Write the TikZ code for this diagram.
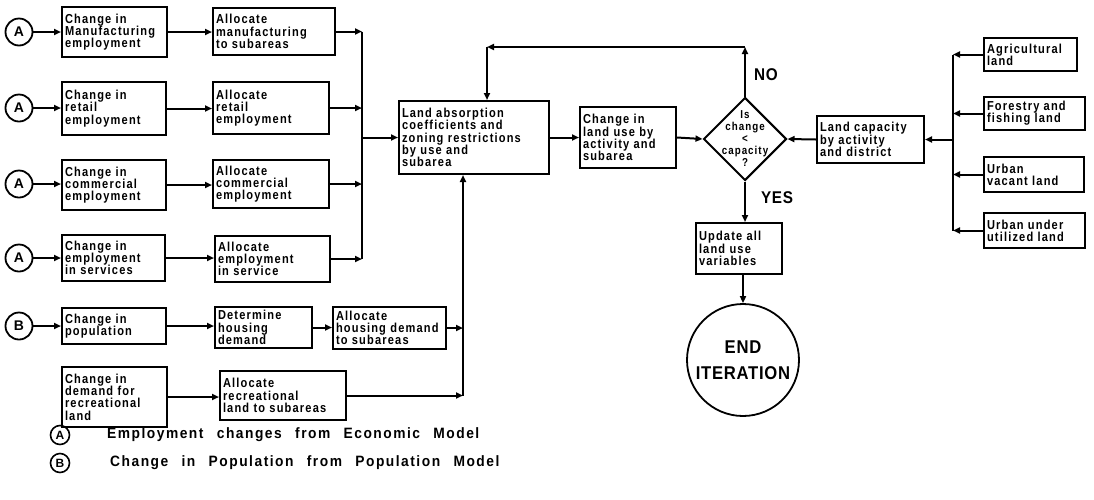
\documentclass[tikz,border=0pt]{standalone}
\usepackage{fontspec}
\setmainfont{Liberation Sans}
\newfontfamily\boxfont{Liberation Sans}[LetterSpace=9,WordSpace=1.5,FakeStretch=0.85]
\newfontfamily\legfont{Liberation Sans}[LetterSpace=10,WordSpace=2.5,FakeStretch=0.92]
\newfontfamily\bigfont{Liberation Sans}[LetterSpace=4,FakeStretch=0.9]
\usetikzlibrary{shapes.geometric,arrows.meta}
\tikzset{
  box/.style={draw, line width=2pt, inner xsep=3pt, inner ysep=1pt, align=left,
    font=\boxfont\bfseries\fontsize{13}{12.3}\selectfont},
  ln/.style={line width=2pt},
  arr/.style={line width=2pt, -{Triangle[length=7pt,width=6pt]}},
  src/.style={draw, circle, line width=1.8pt, minimum size=27pt, inner sep=0pt,
    font=\bfseries\fontsize{14}{14}\selectfont},
  lsrc/.style={draw, circle, line width=1.6pt, minimum size=19pt, inner sep=0pt,
    font=\bfseries\fontsize{12}{12}\selectfont},
  legtext/.style={anchor=west, inner sep=0pt, font=\legfont\bfseries\fontsize{15}{15}\selectfont},
  yn/.style={inner sep=0pt, font=\bigfont\bfseries\fontsize{17}{17}\selectfont}
}
\newcommand{\mybox}[6]{%
  \pgfmathsetmacro\bw{#4-#2-6}\pgfmathsetmacro\bh{#5-#3}%
  \node[box, text width=\bw pt, minimum height=\bh pt] (#1) at ({(#2+#4)/2},{(#3+#5)/2}) {#6};}
\begin{document}
\begin{tikzpicture}[x=1pt,y=-1pt]
\useasboundingbox (0,0) rectangle (1094,499);
% left column boxes
\mybox{r1a}{62}{7}{167}{57}{Change in\\Manufacturing\\employment}
\mybox{r1b}{213}{8}{335}{55}{Allocate\\manufacturing\\to subareas}
\mybox{r2a}{62}{82}{166}{135}{Change in\\retail\\employment}
\mybox{r2b}{213}{82}{329}{134}{Allocate\\retail\\employment}
\mybox{r3a}{62}{160}{166}{210}{Change in\\commercial\\employment}
\mybox{r3b}{213}{160}{329}{208}{Allocate\\commercial\\employment}
\mybox{r4a}{62}{235}{165}{281}{Change in\\employment\\in services}
\mybox{r4b}{215}{236}{330}{282}{Allocate\\employment\\in service}
\mybox{r5a}{62}{308}{166}{344}{Change in\\population}
\mybox{r5b}{215}{307}{312}{348}{Determine\\housing\\demand}
\mybox{r5c}{333}{307}{446}{349}{Allocate\\housing demand\\to subareas}
\mybox{r6a}{62}{367}{167}{427}{Change in\\demand for\\recreational\\land}
\mybox{r6b}{220}{371}{346}{420}{Allocate\\recreational\\land to subareas}
% central
\mybox{land}{399}{101}{549}{174}{Land absorption\\coefficients and\\zoning restrictions\\by use and\\subarea}
\mybox{chg}{580}{107}{676}{168}{Change in\\land use by\\activity and\\subarea}
\node[diamond, draw, line width=2pt, minimum width=83pt, minimum height=83pt, inner sep=0pt] (dia) at (745,139) {};
\node[align=center, inner sep=0pt, font=\boxfont\bfseries\fontsize{11.5}{12}\selectfont] (diat) at (745,139) {Is\\change\\<\\capacity\\?};
\mybox{upd}{696}{223}{782}{274}{Update all\\land use\\variables}
\node[draw, circle, line width=1.8pt, minimum size=112pt, inner sep=0pt, align=center,
  font=\bigfont\bfseries\fontsize{18.5}{26}\selectfont] (end) at (743,360) {END\\ITERATION};
\node[yn] (no) at (766,75) {NO};
\node[yn] (yes) at (777,198) {YES};
% right
\mybox{cap}{817}{116}{924}{163}{Land capacity\\by activity\\and district}
\mybox{agr}{984}{38}{1077}{71}{Agricultural\\land}
\mybox{for}{984}{97}{1085}{130}{Forestry and\\fishing land}
\mybox{urv}{984}{157}{1084}{192}{Urban\\vacant land}
\mybox{uru}{984}{213}{1085}{248}{Urban under\\utilized land}
% source circles
\node[src] (a1) at (19,32) {A};
\node[src] (a2) at (19,108) {A};
\node[src] (a3) at (19,184) {A};
\node[src] (a4) at (19,258) {A};
\node[src] (b1) at (19,326) {B};
% legend
\node[lsrc] (la) at (60,435) {A};
\node[legtext] (lat) at (107,435) {Employment changes from Economic Model};
\node[lsrc] (lb) at (60,463) {B};
\node[legtext] (lbt) at (110,463) {Change in Population from Population Model};
% connectors left
\foreach \s/\t in {a1/r1a,r1a/r1b,a2/r2a,r2a/r2b,a3/r3a,r3a/r3b,a4/r4a,r4a/r4b,b1/r5a,r5a/r5b,r5b/r5c,r6a/r6b}
  \draw[arr] (\s.east) -- (\t.west |- \s.east);
\coordinate (bus) at (362,0);
\coordinate (hb) at (463,0);
\foreach \s in {r1b,r2b,r3b,r4b}
  \draw[arr] (\s.east) -- (\s.east -| bus);
\draw[ln] (r1b.east -| bus) -- (r4b.east -| bus);
\draw[arr] (bus |- land.west) -- (land.west);
\draw[arr] (r5c.east) -- (r5c.east -| hb);
\draw[arr] (r6b.east) -- (r6b.east -| hb);
\draw[arr] (r6b.east -| hb) -- (hb |- land.south);
% central connectors
\draw[arr] (land.east) -- (chg.west);
\draw[arr] (chg.east) -- (dia.west);
\coordinate (nt) at (745,47);
\coordinate (nl) at (487,47);
\draw[arr] (dia.north) -- (nt);
\draw[arr] (nt) -- (nl);
\draw[arr] (nl) -- (nl |- land.north);
\draw[arr] (dia.south) -- (upd.north -| dia.south);
\draw[arr] (upd.south -| end.north) -- (end.north);
% right connectors
\coordinate (rb) at (953,0);
\draw[arr] (cap.west) -- (dia.east);
\draw[ln] (rb |- agr.west) -- (rb |- uru.west);
\foreach \s in {agr,for,urv,uru}
  \draw[arr] (\s.west) -- (\s.west -| rb);
\draw[arr] (rb |- cap.east) -- (cap.east);
\end{tikzpicture}
\end{document}
